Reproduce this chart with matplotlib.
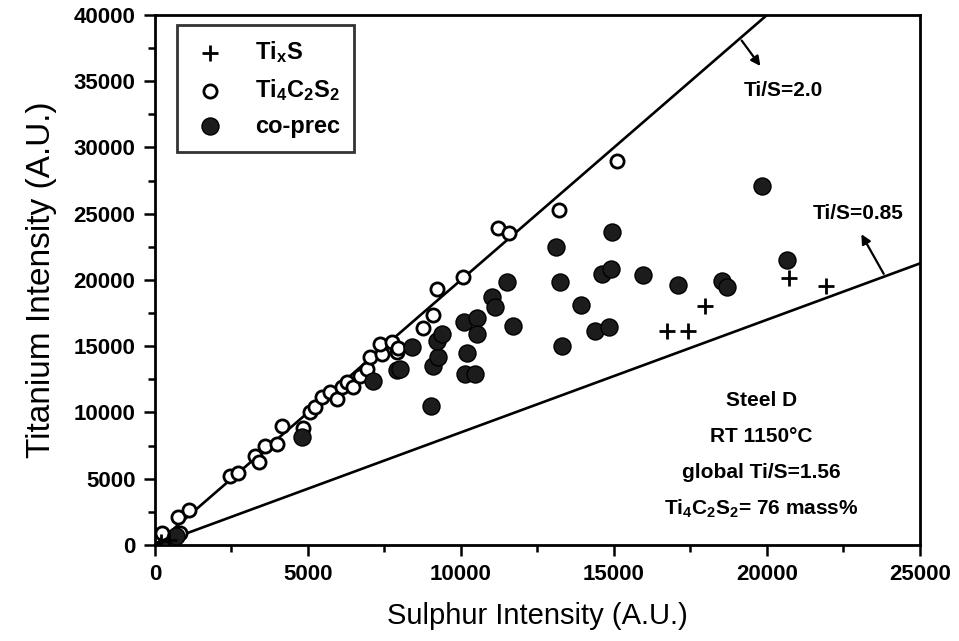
import matplotlib
matplotlib.use('Agg')
import matplotlib.pyplot as plt
from matplotlib.ticker import MultipleLocator

plt.rcParams['font.family'] = ['Liberation Sans', 'DejaVu Sans']
plt.rcParams['mathtext.default'] = 'regular'

# particle measurements: sulphur intensity vs titanium intensity (A.U.)
tis_s = [16730, 17420, 17970, 20720, 21930, 200, 450]
tis_ti = [16140, 16140, 18030, 20150, 19550, 250, 350]

tcs_s = [230, 817, 750, 1110, 2450, 2710, 3270, 3400, 3600, 4000, 4150, 4840,
         5065, 5230, 5460, 5720, 5950, 6110, 6275, 6470, 6700, 6930, 7030,
         7420, 7350, 7745, 7910, 7940, 8760, 9085, 9216, 10065, 11210, 11570,
         13200, 15100]
tcs_ti = [900, 900, 2120, 2650, 5200, 5450, 6700, 6290, 7500, 7600, 9000, 8860,
          10000, 10400, 11140, 11520, 10980, 11890, 12300, 11900, 12730, 13260,
          14170, 14400, 15150, 15300, 14550, 14900, 16360, 17350, 19320, 20230,
          23940, 23560, 25300, 29000]

cop_s = [700, 4790, 7120, 7910, 8000, 8400, 9020, 9085, 9250, 9216, 9380,
         10100, 10520, 10520, 10200, 10130, 10460, 11010, 11110, 11500, 11700,
         13100, 13240, 13300, 13920, 14380, 14840, 14600, 14900, 14935, 15950,
         17090, 18530, 18690, 19850, 20650]
cop_ti = [700, 8150, 12400, 13200, 13260, 14920, 10500, 13480, 14170, 15380,
          15900, 16820, 17150, 15900, 14500, 12880, 12880, 18710, 17950, 19850,
          16550, 22500, 19850, 15000, 18100, 16140, 16440, 20450, 20830, 23620,
          20380, 19650, 19920, 19500, 27100, 21520]

ratio_hi = 2.0
ratio_lo = 0.85
x_line = [0, 25000]

notes = ['Steel D', 'RT 1150°C', 'global Ti/S=1.56', 'Ti$_4$C$_2$S$_2$= 76 mass%']

fig = plt.figure(figsize=(9.59, 6.41), dpi=100)
ax = fig.add_axes([0.1616, 0.1498, 0.7977, 0.8268])

ax.plot(x_line, [ratio_hi * v for v in x_line], color='black', lw=1.9, zorder=2)
ax.plot(x_line, [ratio_lo * v for v in x_line], color='black', lw=1.9, zorder=2)

ax.scatter(tcs_s, tcs_ti, s=90, facecolor='white', edgecolor='black',
           linewidth=2.0, zorder=3, label='Ti$_4$C$_2$S$_2$')
ax.scatter(cop_s, cop_ti, s=150, facecolor='#1c1c1c', edgecolor='black',
           linewidth=1.0, zorder=4, label='co-prec')
ax.scatter(tis_s, tis_ti, s=130, marker='+', color='black', linewidth=2.0,
           zorder=5, label='Ti$_x$S')

ax.annotate('', xy=(19840, 35980), xytext=(19120, 38240),
            arrowprops=dict(arrowstyle='-|>', color='black', lw=1.6,
                            mutation_scale=14))
ax.text(20520, 34300, 'Ti/S=2.0', ha='center', va='center', fontsize=15,
        fontweight='bold')
ax.annotate('', xy=(23040, 23640), xytext=(23860, 20280),
            arrowprops=dict(arrowstyle='-|>', color='black', lw=1.6,
                            mutation_scale=14))
ax.text(22970, 25000, 'Ti/S=0.85', ha='center', va='center', fontsize=15,
        fontweight='bold')

for i, line in enumerate(notes):
    ax.text(0.793, 0.272 - i * 0.068, line, transform=ax.transAxes,
            ha='center', va='center', fontsize=15, fontweight='bold')

ax.set_xlim(0, 25000)
ax.set_ylim(0, 40000)
ax.xaxis.set_major_locator(MultipleLocator(5000))
ax.xaxis.set_minor_locator(MultipleLocator(2500))
ax.yaxis.set_major_locator(MultipleLocator(5000))
ax.yaxis.set_minor_locator(MultipleLocator(2500))
ax.tick_params(which='both', direction='out', width=1.8, top=False, right=False)
ax.tick_params(which='major', length=8, labelsize=16, pad=6)
ax.tick_params(which='minor', length=5)
for lab in ax.get_xticklabels() + ax.get_yticklabels():
    lab.set_fontweight('bold')
for sp in ax.spines.values():
    sp.set_linewidth(2.0)

ax.set_xlabel('Sulphur Intensity (A.U.)', fontsize=21, labelpad=12)
ax.set_ylabel('Titanium Intensity (A.U.)', fontsize=24, labelpad=12)

handles, labels = ax.get_legend_handles_labels()
order = [2, 0, 1]
leg = ax.legend([handles[i] for i in order], [labels[i] for i in order],
                loc='upper left', bbox_to_anchor=(0.029, 0.981),
                borderaxespad=0, frameon=True, fancybox=False,
                edgecolor='black', handlelength=1.6, handletextpad=1.1,
                borderpad=0.6, labelspacing=0.5,
                prop={'weight': 'bold', 'size': 17})
leg.get_frame().set_linewidth(2.0)

fig.savefig('out.png', dpi=100)
